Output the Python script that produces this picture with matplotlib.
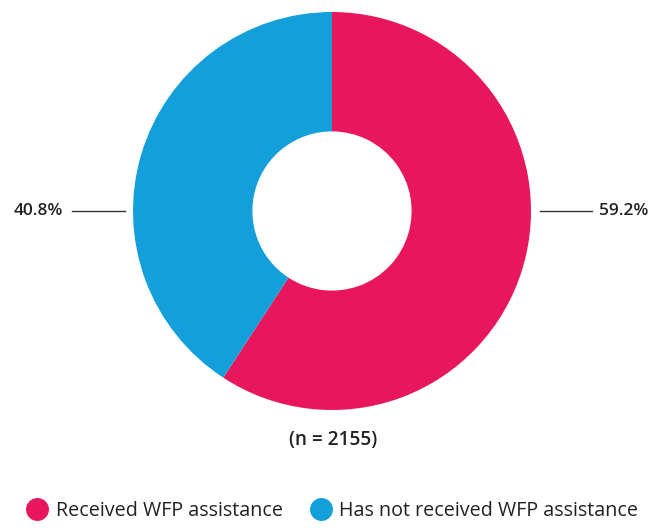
import matplotlib.pyplot as plt
from matplotlib.lines import Line2D

labels = ['Received WFP assistance', 'Has not received WFP assistance']
values = [59.2, 40.8]
colors = ['#E8175D', '#139FDA']
n_total = 2155

plt.rcParams['font.family'] = ['Open Sans', 'DejaVu Sans']

fig = plt.figure(figsize=(6.51, 5.28), dpi=100)
# square axes, 398 px wide, centred on (332, 211)
ax = fig.add_axes([(332 - 199) / 651, 1 - (211 + 199) / 528, 398 / 651, 398 / 528])
ax.pie(values, colors=colors, startangle=90, counterclock=False,
       wedgeprops=dict(width=0.6, edgecolor='none'))
ax.set_xlim(-1, 1)
ax.set_ylim(-1, 1)
ax.set_aspect('equal')
ax.axis('off')

# value labels with leader lines
ax.plot([1.045, 1.307], [0, 0], color='#333333', lw=1.0, clip_on=False)
ax.text(1.342, 0, '%.1f%%' % values[0], ha='left', va='center',
        fontsize=12.5, fontweight='semibold', color='#222222', clip_on=False)
ax.plot([-1.04, -1.307], [0, 0], color='#333333', lw=1.0, clip_on=False)
ax.text(-1.352, 0, '%.1f%%' % values[1], ha='right', va='center',
        fontsize=12.5, fontweight='semibold', color='#222222', clip_on=False)

fig.text(333 / 651, 1 - 440 / 528, '(n = %d)' % n_total, ha='center', va='center',
         fontsize=13.7, fontweight='semibold', color='#222222')

handles = [Line2D([0], [0], marker='o', linestyle='none', markersize=16.5,
                  markerfacecolor=c, markeredgecolor='none') for c in colors]
fig.legend(handles, labels, loc='center', bbox_to_anchor=(333 / 651, 1 - 511 / 528),
           ncol=2, frameon=False, fontsize=14.2, handletextpad=0.45,
           columnspacing=1.4, handlelength=1.0, labelcolor='#222222')

plt.savefig('out.png')
